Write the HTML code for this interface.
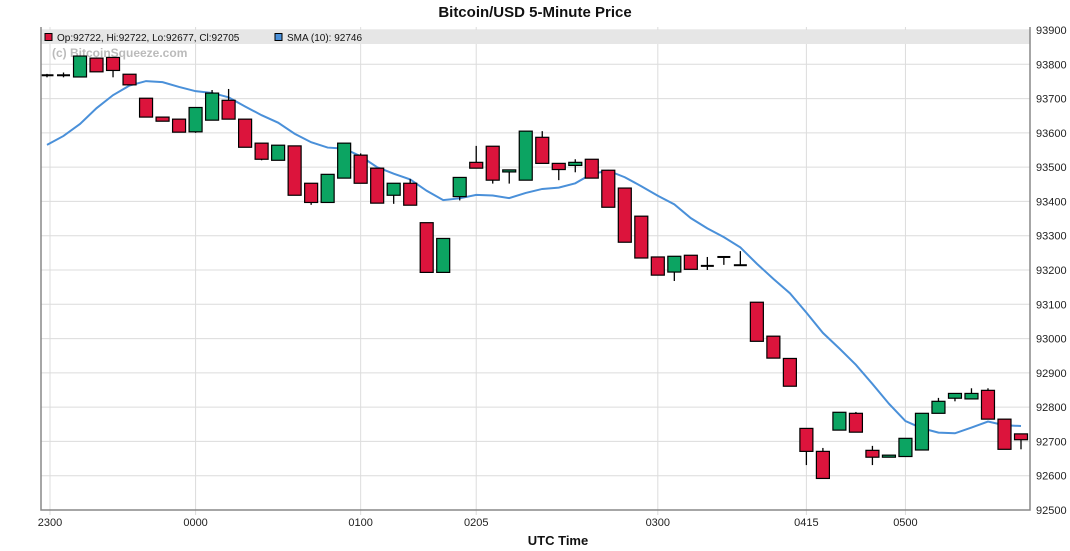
<!DOCTYPE html>
<html><head><meta charset="utf-8"><style>
body{margin:0;background:#fff;font-family:"Liberation Sans",sans-serif}
svg text{font-family:"Liberation Sans",sans-serif}
</style></head><body>
<svg id="chart" width="1070" height="546" xmlns="http://www.w3.org/2000/svg">
<rect width="1070" height="546" fill="#fff"/>
<text x="535" y="17" text-anchor="middle" font-size="15" font-weight="bold" fill="#111">Bitcoin/USD 5-Minute Price</text>
<g id="grid"></g>
<rect x="41" y="30" width="989" height="14" fill="#e6e6e6"/>
<text x="52" y="57" font-size="12" font-weight="bold" fill="#bbb">(c) BitcoinSqueeze.com</text>
<g id="sma"></g>
<g id="candles"></g>
<g id="axes"></g>
<g>
<rect x="45" y="33.5" width="7" height="7" fill="#dc143c" stroke="#000" stroke-width="1"/>
<text x="57" y="41" font-size="10" fill="#111">Op:92722, Hi:92722, Lo:92677, Cl:92705</text>
<rect x="275" y="33.5" width="7" height="7" fill="#4a90d9" stroke="#000" stroke-width="1"/>
<text x="287" y="41" font-size="10" fill="#111">SMA (10): 92746</text>
</g>
<text x="558" y="545" text-anchor="middle" font-size="13" font-weight="bold" fill="#111">UTC Time</text>
</svg>
<script>
const opens=[93768,93768,93763,93818,93820,93771,93701,93646,93640,93603,93637,93695,93640,93570,93520,93562,93453,93397,93468,93535,93497,93418,93453,93338,93193,93414,93514,93561,93486,93462,93587,93511,93505,93523,93491,93439,93357,93238,93194,93243,93212,93238,93214,93106,93007,92942,92738,92671,92733,92782,92674,92654,92656,92675,92782,92826,92824,92849,92765,92722];
const highs=[93772,93776,93824,93820,93820,93771,93701,93646,93640,93674,93725,93728,93640,93570,93564,93562,93453,93479,93570,93540,93497,93453,93465,93338,93292,93470,93562,93561,93492,93605,93605,93511,93523,93523,93491,93439,93357,93238,93240,93243,93238,93238,93255,93106,93007,92942,92738,92681,92785,92786,92687,92660,92709,92782,92827,92840,92855,92855,92765,92722];
const lows=[93762,93762,93763,93778,93762,93740,93646,93634,93602,93600,93637,93640,93558,93520,93520,93418,93390,93397,93468,93453,93395,93393,93389,93193,93193,93403,93497,93452,93452,93462,93511,93462,93485,93468,93383,93281,93235,93185,93168,93202,93200,93215,93214,92992,92943,92861,92631,92592,92733,92727,92631,92654,92656,92675,92782,92817,92824,92765,92677,92677];
const closes=[93768,93768,93824,93778,93782,93740,93646,93634,93602,93674,93716,93640,93558,93523,93564,93418,93397,93479,93570,93453,93395,93453,93389,93193,93292,93470,93497,93462,93492,93605,93511,93493,93514,93468,93383,93281,93235,93185,93240,93202,93212,93238,93214,92992,92943,92861,92671,92592,92785,92727,92654,92660,92709,92782,92817,92840,92840,92765,92677,92705];
const smaLead=[93565,93591,93626,93672,93710,93738,93751,93748,93734];
const xTickLabels=["2300","0000","0100","0205","0300","0415","0500"];
const xTickIndex=[0,9,19,26,37,46,52];
const yTicks=[92500,92600,92700,92800,92900,93000,93100,93200,93300,93400,93500,93600,93700,93800,93900];

const NS="http://www.w3.org/2000/svg";
const L=41,R=1030,T=27,B=510,yMin=92500,yMax=93900;
function xs(i){return 47+i*(1021-47)/59;}
function ys(v){return B-(v-yMin)*(B-30)/(yMax-yMin);}
function mk(tag,attrs,parent){const e=document.createElementNS(NS,tag);for(const k in attrs)e.setAttribute(k,attrs[k]);parent.appendChild(e);return e;}
const grid=document.getElementById('grid'),axes=document.getElementById('axes'),cg=document.getElementById('candles'),sg=document.getElementById('sma');
yTicks.forEach(v=>{
  const l=mk('line',{x1:L,x2:R,y1:ys(v),y2:ys(v),stroke:'#dcdcdc','stroke-width':1},grid);
  
  
  const t=mk('text',{x:1036,y:ys(v)+4,'font-size':11,fill:'#222'},axes);
  t.textContent=v;
  
  
});
xTickIndex.forEach((idx,k)=>{
  const x=xs(idx)+(idx==0?3:0);
  const l=mk('line',{x1:x,x2:x,y1:T,y2:B+5,stroke:'#dcdcdc','stroke-width':1},grid);
  
  
  const t=mk('text',{x:x,y:526,'text-anchor':'middle','font-size':11,fill:'#222'},axes);
  t.textContent=xTickLabels[k];
  
  
});
const ax=mk('path',{d:`M${L} ${T}V${B}H${R}V${T}`,fill:'none',stroke:'#888','stroke-width':1.5},axes);


// SMA
const sma=[];
for(let i=0;i<closes.length;i++){
  if(i<9){sma.push(smaLead[i]);continue;}
  let s=0;for(let j=i-9;j<=i;j++)s+=closes[j];sma.push(s/10);
}
const sp=mk('polyline',{points:sma.map((v,i)=>xs(i)+','+ys(v)).join(' '),fill:'none',stroke:'#4a90d9','stroke-width':2},sg);


// candles
const W=13;
for(let i=0;i<opens.length;i++){
  const x=xs(i),o=opens[i],c=closes[i],up=c>=o;
  const g=mk('g',{},cg);
  
  
  mk('line',{x1:x,x2:x,y1:ys(highs[i]),y2:ys(lows[i]),stroke:'#000','stroke-width':1.3},g);
  const top=ys(Math.max(o,c)),bot=ys(Math.min(o,c));
  if(bot-top<2){
    mk('rect',{x:x-W/2,y:top-1,width:W,height:2,fill:'#000'},g);
  }else{
    mk('rect',{x:x-W/2,y:top,width:W,height:bot-top,fill:up?'#0ca462':'#dc143c',stroke:'#000','stroke-width':1.2},g);
  }
}
</script>
</body></html>
